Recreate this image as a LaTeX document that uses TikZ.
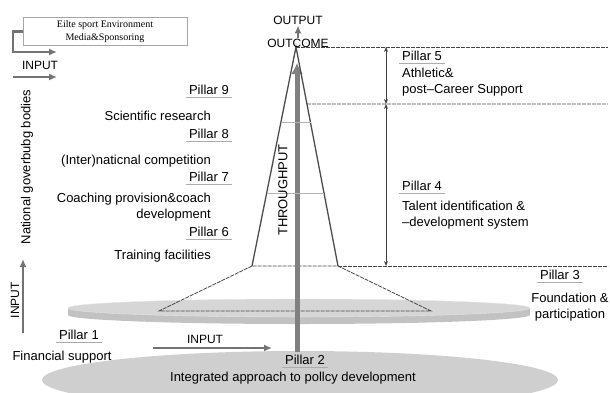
\documentclass[tikz,border=0pt]{standalone}
\usepackage{fontspec}
\setmainfont{Liberation Sans}
\newfontfamily\boxfont{Liberation Serif}
\usetikzlibrary{arrows.meta, calc}
\tikzset{
>={Latex[length=8pt, width=7pt]}, % filled heads on the flow arrows
texto/.style={font=\fontsize{13}{16}\selectfont, inner sep=0pt},
caps/.style={font=\fontsize{12}{14}\selectfont, inner sep=1pt},
pillarhead/.style={font=\fontsize{13}{16}\selectfont, inner xsep=3pt, inner ysep=2.5pt,
  append after command={\pgfextra{\let\pillarnode=\tikzlastnode}
    (\pillarnode.south west) edge[draw=gray!65, line width=1.3pt] (\pillarnode.south east)}},
envbox/.style={draw=gray!70, line width=0.8pt, minimum width=164pt, minimum height=25pt,
  align=center, font=\boxfont\fontsize{10}{13}\selectfont},
flow/.style={->, draw=black!55, line width=2.2pt},
throughput/.style={-{Latex[length=11pt, width=12pt]}, draw=black!50, line width=5pt},
span/.style={{Stealth[length=5pt, width=4pt]}-{Stealth[length=5pt, width=4pt]}, draw=black!75, line width=0.9pt},
level/.style={draw=gray!55!black, dash pattern=on 4pt off 1pt, line width=0.8pt},
tier/.style={draw=gray!60, line width=1pt},
side/.style={draw=black!70, line width=1.3pt}
}
\begin{document}
\begin{tikzpicture}[x=1pt, y=-1pt]
\clip (0,0) rectangle (610,392);

% base plate and foundation disk
\fill[gray!38] (300,380) ellipse [x radius=258, y radius=29];
\fill[gray!48] (299,315) ellipse [x radius=231, y radius=9];
\fill[gray!48] (68,308) rectangle (530,315);
\filldraw[fill=gray!32, draw=gray!20] (299,308) ellipse [x radius=231, y radius=9];

% pyramid corners
\coordinate (apex) at (296,47);
\coordinate (bl) at (252,266);
\coordinate (br) at (338,266);
\coordinate (fl) at (159,311);
\coordinate (fr) at (431,311);

% lower trapezoid
\draw[level] (bl) -- (fl) -- (fr) -- (br) -- cycle;

% throughput arrow
\coordinate (tpfoot) at (297,352);
\coordinate (tptip) at (297,63);
\draw[throughput] (tpfoot) -- (tptip);

% pyramid and tiers
\draw[side] (bl) -- (apex) -- (br);
\draw[tier] ($(apex)!0.347!(bl)$) -- ($(apex)!0.347!(br)$);
\draw[tier] ($(apex)!0.667!(bl)$) -- ($(apex)!0.667!(br)$);

% levels on the right
\coordinate (p5) at ($(apex)!0.26!(br)$);
\coordinate (e5) at (608,47);
\coordinate (e4) at (608,104);
\coordinate (e3) at (608,266);
\draw[level] (apex) -- (e5);
\draw[level] (p5) -- (e4);
\draw[level] (br) -- (e3);
\coordinate (s5top) at (386,47);
\coordinate (s5bot) at (386,104);
\coordinate (s4bot) at (386,266);
\draw[span] (s5top) -- (s5bot);
\draw[span] (s5bot) -- (s4bot);

% top of the pyramid
\node[caps] (outcome) at (298,43) {OUTCOME};
\node[caps] (output) at (298,20) {OUTPUT};
\draw[flow] (outcome.north) -- (output.south);
\node[texto, rotate=90] (tplabel) at (283,190) {THROUGHPUT};

% environment input
\node[envbox] (env) at (105,31.5) {Eilte sport Environment\\Media\&Sponsoring};
\coordinate (envin) at (57,52);
\draw[flow] (env.west) -- ++(-10,0) |- (envin);
\node[caps] (intop) at (40,65) {INPUT};
\coordinate (intl) at (13,77);
\coordinate (intr) at (57,77);
\draw[flow] (intl) -- (intr);

% governing bodies input
\node[texto, rotate=90] (ngb) at (27,167) {National goverbubg bodies};
\node[caps, rotate=90] (inleft) at (15,300) {INPUT};
\coordinate (inlfoot) at (23,333);
\coordinate (inltip) at (23,259);
\draw[flow] (inlfoot) -- (inltip);

% pillars on the left
\node[pillarhead, anchor=east] (pil9) at (232,90) {Pillar 9};
\node[texto, anchor=east] (research) at (211,116) {Scientific research};
\node[pillarhead, anchor=east] (pil8) at (232,134) {Pillar 8};
\node[texto, anchor=east] (competition) at (211,161) {(Inter)naticnal competition};
\node[pillarhead, anchor=east] (pil7) at (232,177) {Pillar 7};
\node[texto, anchor=east, align=right] (coaching) at (211,207.5) {Coaching provision\&coach\\development};
\node[pillarhead, anchor=east] (pil6) at (232,232) {Pillar 6};
\node[texto, anchor=east] (facilities) at (211,256) {Training facilities};

% pillars on the right
\node[pillarhead, anchor=west] (pil5) at (399,56) {Pillar 5};
\node[texto, anchor=west, align=left] (career) at (402,82.5) {Athletic\&\\post–Career Support};
\node[pillarhead, anchor=west] (pil4) at (399,186) {Pillar 4};
\node[texto, anchor=west, align=left] (talent) at (402,215.5) {Talent identification \&\\–development system};
\node[pillarhead] (pil3) at (560,275) {Pillar 3};
\node[texto, align=center] (foundation) at (570,307) {Foundation \&\\participation};

% bottom pillars
\node[pillarhead] (pil1) at (79,335) {Pillar 1};
\node[texto] (financial) at (62,357) {Financial support};
\node[caps] (inbottom) at (205,339) {INPUT};
\coordinate (inbl) at (153,348);
\coordinate (inbr) at (272,348);
\draw[flow] (inbl) -- (inbr);
\node[pillarhead] (pil2) at (305,360) {Pillar 2};
\node[texto] (policy) at (293,378) {Integrated approach to pollcy development};
\end{tikzpicture}
\end{document}
